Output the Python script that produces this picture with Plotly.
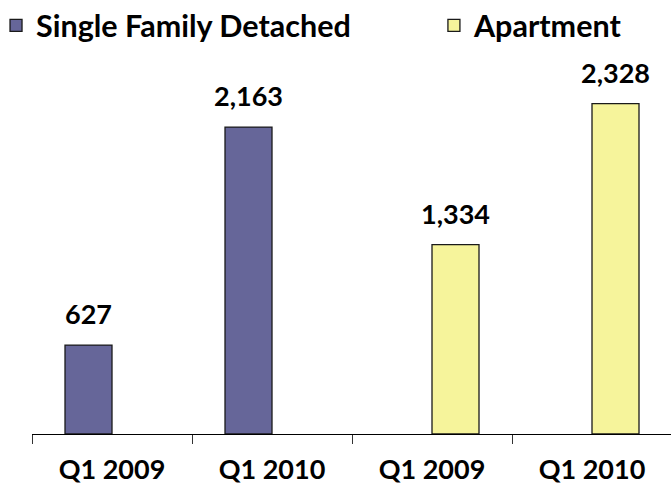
import plotly.graph_objects as go

categories = ["Q1 2009", "Q1 2010", "Q1 2009\u200b", "Q1 2010\u200b"]
tick_labels = ["Q1 2009", "Q1 2010", "Q1 2009", "Q1 2010"]
sfd_values = [627, 2163, None, None]
apt_values = [None, None, 1334, 2328]
series_names = ["Single Family Detached", "Apartment"]
sfd_color = "#666699"
apt_color = "#F6F49B"

FONT = "Lato, 'Open Sans', sans-serif"

fig = go.Figure()
fig.add_trace(go.Bar(x=categories, y=sfd_values, name=f"<b>{series_names[0]}</b>",
                     legend="legend",
                     marker=dict(color=sfd_color, line=dict(color="#1a1a1a", width=1.3))))
fig.add_trace(go.Bar(x=categories, y=apt_values, name=f"<b>{series_names[1]}</b>",
                     legend="legend2",
                     marker=dict(color=apt_color, line=dict(color="#1a1a1a", width=1.3))))

# value labels
for vals, shift in ((sfd_values, -23.5), (apt_values, 23.5)):
    for c, v in zip(categories, vals):
        if v is None:
            continue
        fig.add_annotation(x=c, y=v, text=f"<b>{v:,}</b>", showarrow=False,
                           xshift=shift, yanchor="bottom", yshift=13,
                           font=dict(family=FONT, size=27, color="#000000"))

legend_common = dict(orientation="h", xanchor="left", y=1.163, yanchor="top",
                     bgcolor="rgba(0,0,0,0)",
                     font=dict(family=FONT, size=30.5, color="#000000"))

fig.update_layout(
    width=671, height=486,
    margin=dict(l=32, r=0, t=60, b=52, autoexpand=False),
    paper_bgcolor="white", plot_bgcolor="white",
    barmode="group", bargap=0.4125, bargroupgap=0,
    showlegend=True,
    legend=dict(x=-0.0563, **legend_common),
    legend2=dict(x=0.629, **legend_common),
    xaxis=dict(type="category", range=[-0.5, -0.5 + 639 / 160],
               automargin=False,
               tickson="boundaries", ticks="outside", ticklen=9,
               tickwidth=1.3, tickcolor="#333333",
               showline=True, linecolor="#000000", linewidth=1.3,
               tickmode="array", tickvals=categories,
               ticktext=[f"<b>{t}</b>" for t in tick_labels],
               ticklabelstandoff=11,
               tickfont=dict(family=FONT, size=27, color="#000000"),
               showgrid=False, zeroline=False, fixedrange=True),
    yaxis=dict(range=[0, 374 / 0.1419], visible=False, showgrid=False,
               automargin=False,
               zeroline=False, fixedrange=True),
)

fig.write_html("out.html", config={"displayModeBar": False},
               post_script="document.body.style.margin='0';document.body.style.overflow='hidden';")
